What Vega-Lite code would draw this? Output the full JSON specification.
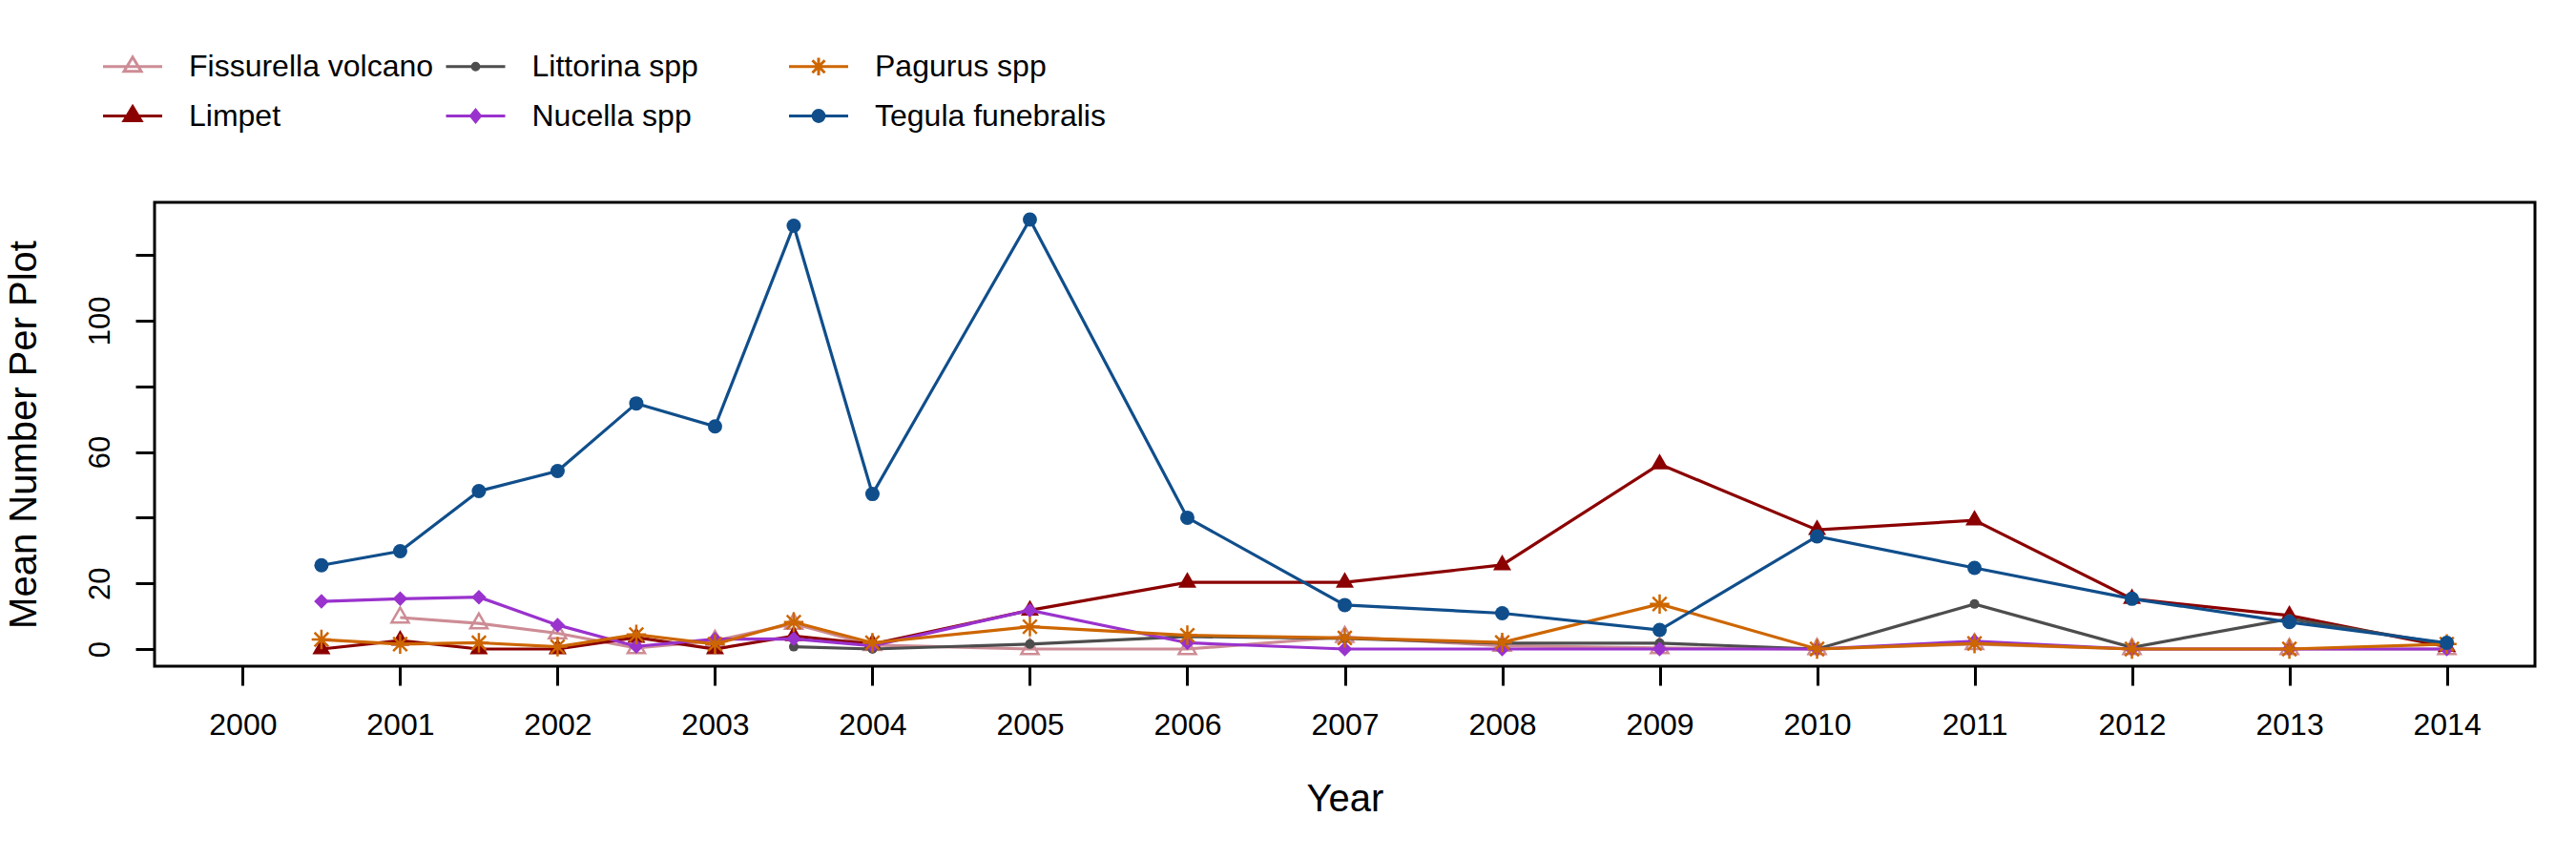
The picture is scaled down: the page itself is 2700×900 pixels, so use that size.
{
  "$schema": "https://vega.github.io/schema/vega-lite/v6.json",
  "width": 2495,
  "height": 486,
  "autosize": {"type": "none"},
  "padding": {"left": 162, "top": 212, "right": 43, "bottom": 202},
  "background": "white",
  "config": {
    "view": {"stroke": "black", "strokeWidth": 3},
    "font": "Liberation Sans",
    "axis": {"domain": false, "grid": false, "tickColor": "black", "tickWidth": 3, "tickSize": 20, "labelColor": "black", "titleColor": "black", "labelFont": "Liberation Sans", "titleFont": "Liberation Sans", "titleFontWeight": "normal"}
  },
  "data": {"values": [
    {"species": "Fissurella volcano", "year": 2001, "value": 9.6},
    {"species": "Fissurella volcano", "year": 2001.5, "value": 7.8},
    {"species": "Fissurella volcano", "year": 2002, "value": 4.8},
    {"species": "Fissurella volcano", "year": 2002.5, "value": 0.3},
    {"species": "Fissurella volcano", "year": 2003, "value": 2.5},
    {"species": "Fissurella volcano", "year": 2003.5, "value": 7.7},
    {"species": "Fissurella volcano", "year": 2004, "value": 1.2},
    {"species": "Fissurella volcano", "year": 2005, "value": 0},
    {"species": "Fissurella volcano", "year": 2006, "value": 0},
    {"species": "Fissurella volcano", "year": 2007, "value": 3.7},
    {"species": "Fissurella volcano", "year": 2008, "value": 1.0},
    {"species": "Fissurella volcano", "year": 2009, "value": 0.3},
    {"species": "Fissurella volcano", "year": 2010, "value": 0},
    {"species": "Fissurella volcano", "year": 2011, "value": 1.5},
    {"species": "Fissurella volcano", "year": 2012, "value": 0},
    {"species": "Fissurella volcano", "year": 2013, "value": 0},
    {"species": "Fissurella volcano", "year": 2014, "value": 0},
    {"species": "Limpet", "year": 2000.5, "value": 0},
    {"species": "Limpet", "year": 2001, "value": 2.6},
    {"species": "Limpet", "year": 2001.5, "value": 0},
    {"species": "Limpet", "year": 2002, "value": 0},
    {"species": "Limpet", "year": 2002.5, "value": 3.5},
    {"species": "Limpet", "year": 2003, "value": 0},
    {"species": "Limpet", "year": 2003.5, "value": 4.0},
    {"species": "Limpet", "year": 2004, "value": 1.5},
    {"species": "Limpet", "year": 2005, "value": 11.8},
    {"species": "Limpet", "year": 2006, "value": 20.3},
    {"species": "Limpet", "year": 2007, "value": 20.3},
    {"species": "Limpet", "year": 2008, "value": 25.6},
    {"species": "Limpet", "year": 2009, "value": 56.3},
    {"species": "Limpet", "year": 2010, "value": 36.3},
    {"species": "Limpet", "year": 2011, "value": 39.2},
    {"species": "Limpet", "year": 2012, "value": 15.3},
    {"species": "Limpet", "year": 2013, "value": 10.2},
    {"species": "Limpet", "year": 2014, "value": 0.7},
    {"species": "Littorina spp", "year": 2003.5, "value": 0.7},
    {"species": "Littorina spp", "year": 2004, "value": 0},
    {"species": "Littorina spp", "year": 2005, "value": 1.5},
    {"species": "Littorina spp", "year": 2006, "value": 3.8},
    {"species": "Littorina spp", "year": 2007, "value": 3.2},
    {"species": "Littorina spp", "year": 2008, "value": 1.8},
    {"species": "Littorina spp", "year": 2009, "value": 1.8},
    {"species": "Littorina spp", "year": 2010, "value": 0},
    {"species": "Littorina spp", "year": 2011, "value": 13.7},
    {"species": "Littorina spp", "year": 2012, "value": 0.5},
    {"species": "Littorina spp", "year": 2013, "value": 9.2},
    {"species": "Littorina spp", "year": 2014, "value": 1.5},
    {"species": "Nucella spp", "year": 2000.5, "value": 14.5},
    {"species": "Nucella spp", "year": 2001, "value": 15.3},
    {"species": "Nucella spp", "year": 2001.5, "value": 15.8},
    {"species": "Nucella spp", "year": 2002, "value": 7.3},
    {"species": "Nucella spp", "year": 2002.5, "value": 0.8},
    {"species": "Nucella spp", "year": 2003, "value": 3.0},
    {"species": "Nucella spp", "year": 2003.5, "value": 3.1},
    {"species": "Nucella spp", "year": 2004, "value": 1.0},
    {"species": "Nucella spp", "year": 2005, "value": 11.8},
    {"species": "Nucella spp", "year": 2006, "value": 1.9},
    {"species": "Nucella spp", "year": 2007, "value": 0},
    {"species": "Nucella spp", "year": 2008, "value": 0},
    {"species": "Nucella spp", "year": 2009, "value": 0},
    {"species": "Nucella spp", "year": 2010, "value": 0},
    {"species": "Nucella spp", "year": 2011, "value": 2.4},
    {"species": "Nucella spp", "year": 2012, "value": 0},
    {"species": "Nucella spp", "year": 2013, "value": 0},
    {"species": "Nucella spp", "year": 2014, "value": 0},
    {"species": "Pagurus spp", "year": 2000.5, "value": 2.9},
    {"species": "Pagurus spp", "year": 2001, "value": 1.5},
    {"species": "Pagurus spp", "year": 2001.5, "value": 1.9},
    {"species": "Pagurus spp", "year": 2002, "value": 0.7},
    {"species": "Pagurus spp", "year": 2002.5, "value": 4.4},
    {"species": "Pagurus spp", "year": 2003, "value": 1.5},
    {"species": "Pagurus spp", "year": 2003.5, "value": 8.2},
    {"species": "Pagurus spp", "year": 2004, "value": 1.9},
    {"species": "Pagurus spp", "year": 2005, "value": 6.8},
    {"species": "Pagurus spp", "year": 2006, "value": 4.2},
    {"species": "Pagurus spp", "year": 2007, "value": 3.4},
    {"species": "Pagurus spp", "year": 2008, "value": 2.0},
    {"species": "Pagurus spp", "year": 2009, "value": 13.7},
    {"species": "Pagurus spp", "year": 2010, "value": 0},
    {"species": "Pagurus spp", "year": 2011, "value": 1.7},
    {"species": "Pagurus spp", "year": 2012, "value": 0},
    {"species": "Pagurus spp", "year": 2013, "value": 0},
    {"species": "Pagurus spp", "year": 2014, "value": 1.5},
    {"species": "Tegula funebralis", "year": 2000.5, "value": 25.5},
    {"species": "Tegula funebralis", "year": 2001, "value": 29.8},
    {"species": "Tegula funebralis", "year": 2001.5, "value": 48.1},
    {"species": "Tegula funebralis", "year": 2002, "value": 54.2},
    {"species": "Tegula funebralis", "year": 2002.5, "value": 74.8},
    {"species": "Tegula funebralis", "year": 2003, "value": 67.8},
    {"species": "Tegula funebralis", "year": 2003.5, "value": 128.9},
    {"species": "Tegula funebralis", "year": 2004, "value": 47.2},
    {"species": "Tegula funebralis", "year": 2005, "value": 130.8},
    {"species": "Tegula funebralis", "year": 2006, "value": 40.0},
    {"species": "Tegula funebralis", "year": 2007, "value": 13.4},
    {"species": "Tegula funebralis", "year": 2008, "value": 10.9},
    {"species": "Tegula funebralis", "year": 2009, "value": 5.8},
    {"species": "Tegula funebralis", "year": 2010, "value": 34.3},
    {"species": "Tegula funebralis", "year": 2011, "value": 24.7},
    {"species": "Tegula funebralis", "year": 2012, "value": 15.3},
    {"species": "Tegula funebralis", "year": 2013, "value": 8.2},
    {"species": "Tegula funebralis", "year": 2014, "value": 1.9}
  ]},
  "encoding": {
    "x": {"field": "year", "type": "quantitative",
      "scale": {"domain": [1999.44, 2014.56], "nice": false, "zero": false},
      "axis": {"values": [2000, 2001, 2002, 2003, 2004, 2005, 2006, 2007, 2008, 2009, 2010, 2011, 2012, 2013, 2014], "format": "d", "labelFontSize": 32, "labelPadding": 26, "labelFlush": false, "labelOverlap": false, "title": "Year", "titleFontSize": 40, "titleBaseline": "alphabetic", "titleY": 151}},
    "y": {"field": "value", "type": "quantitative",
      "scale": {"domain": [-5.23, 136.03], "nice": false, "zero": false},
      "axis": {"values": [0, 20, 40, 60, 80, 100, 120], "labelExpr": "indexof([0, 20, 60, 100], datum.value) >= 0 ? datum.label : ''", "labelAngle": 270, "labelAlign": "center", "labelBaseline": "alphabetic", "labelFontSize": 31, "labelPadding": 28, "labelOverlap": false, "labelFlush": false, "title": "Mean Number Per Plot", "titleFontSize": 40, "titleAngle": 270, "titleAlign": "center", "titleBaseline": "alphabetic", "titleX": -125, "titleY": 243}}
  },
  "layer": [
    {
      "transform": [{"filter": {"field": "species", "equal": "Fissurella volcano"}}],
      "mark": {"type": "line", "strokeWidth": 3.2, "stroke": "#CD8C95"}
    },
    {
      "transform": [{"filter": {"field": "species", "equal": "Fissurella volcano"}}],
      "mark": {"type": "point", "shape": "M0,-1.155L1,0.577L-1,0.577Z", "size": 324, "filled": false, "stroke": "#CD8C95", "strokeWidth": 2.5, "opacity": 1}
    },
    {
      "transform": [{"filter": {"field": "species", "equal": "Limpet"}}],
      "mark": {"type": "line", "strokeWidth": 3.2, "stroke": "#8B0000"}
    },
    {
      "transform": [{"filter": {"field": "species", "equal": "Limpet"}}],
      "mark": {"type": "point", "shape": "M0,-1.155L1,0.577L-1,0.577Z", "size": 361, "filled": true, "fill": "#8B0000", "opacity": 1}
    },
    {
      "transform": [{"filter": {"field": "species", "equal": "Littorina spp"}}],
      "mark": {"type": "line", "strokeWidth": 3.2, "stroke": "#4D4D4D"}
    },
    {
      "transform": [{"filter": {"field": "species", "equal": "Littorina spp"}}],
      "mark": {"type": "point", "shape": "circle", "size": 100, "filled": true, "fill": "#4D4D4D", "opacity": 1}
    },
    {
      "transform": [{"filter": {"field": "species", "equal": "Nucella spp"}}],
      "mark": {"type": "line", "strokeWidth": 3.2, "stroke": "#9A32CD"}
    },
    {
      "transform": [{"filter": {"field": "species", "equal": "Nucella spp"}}],
      "mark": {"type": "point", "shape": "diamond", "size": 240, "filled": true, "fill": "#9A32CD", "opacity": 1}
    },
    {
      "transform": [{"filter": {"field": "species", "equal": "Pagurus spp"}}],
      "mark": {"type": "line", "strokeWidth": 3.2, "stroke": "#CD6600"}
    },
    {
      "transform": [{"filter": {"field": "species", "equal": "Pagurus spp"}}],
      "mark": {"type": "point", "shape": "M0,-1V1M-1,0H1M-0.71,-0.71L0.71,0.71M-0.71,0.71L0.71,-0.71", "size": 420, "filled": false, "stroke": "#CD6600", "strokeWidth": 2.5, "opacity": 1}
    },
    {
      "transform": [{"filter": {"field": "species", "equal": "Tegula funebralis"}}],
      "mark": {"type": "line", "strokeWidth": 3.2, "stroke": "#104E8B"}
    },
    {
      "transform": [{"filter": {"field": "species", "equal": "Tegula funebralis"}}],
      "mark": {"type": "point", "shape": "circle", "size": 225, "filled": true, "fill": "#104E8B", "opacity": 1}
    },
    {
      "mark": {"type": "point", "opacity": 0, "size": 3844, "strokeWidth": 3},
      "encoding": {
        "shape": {"field": "species", "type": "nominal",
          "scale": {"domain": ["Fissurella volcano", "Limpet", "Littorina spp", "Nucella spp", "Pagurus spp", "Tegula funebralis"],
            "range": [
              "M-1,0H1M0,-0.32L0.29,0.16L-0.29,0.16Z",
              "M-1,0H1M0,-0.32L0.29,0.16L-0.29,0.16Z",
              "M-1,0H1M-0.11,0A0.11,0.11,0,1,0,0.11,0A0.11,0.11,0,1,0,-0.11,0Z",
              "M-1,0H1M-0.16,0L0,-0.2L0.16,0L0,0.2Z",
              "M-1,0H1M0,-0.3V0.3M-0.21,-0.21L0.21,0.21M-0.21,0.21L0.21,-0.21",
              "M-1,0H1M-0.19,0A0.19,0.19,0,1,0,0.19,0A0.19,0.19,0,1,0,-0.19,0Z"
            ]},
          "legend": {"title": null, "orient": "none", "legendX": -55.5, "legendY": -175, "columns": 3, "gridAlign": "all", "columnPadding": 6.5, "rowPadding": 3, "symbolSize": 3844, "symbolStrokeWidth": 3, "symbolOpacity": 1, "labelFontSize": 32, "labelFont": "Liberation Sans", "labelColor": "black", "labelOffset": 26.5, "labelLimit": 1000, "padding": 0, "symbolOffset": 0}},
        "stroke": {"field": "species", "type": "nominal",
          "scale": {"domain": ["Fissurella volcano", "Limpet", "Littorina spp", "Nucella spp", "Pagurus spp", "Tegula funebralis"], "range": ["#CD8C95", "#8B0000", "#4D4D4D", "#9A32CD", "#CD6600", "#104E8B"]},
          "legend": {"title": null, "orient": "none", "legendX": -55.5, "legendY": -175, "columns": 3, "gridAlign": "all", "columnPadding": 6.5, "rowPadding": 3, "symbolSize": 3844, "symbolStrokeWidth": 3, "symbolOpacity": 1, "labelFontSize": 32, "labelFont": "Liberation Sans", "labelColor": "black", "labelOffset": 26.5, "labelLimit": 1000, "padding": 0, "symbolOffset": 0}},
        "fill": {"field": "species", "type": "nominal",
          "scale": {"domain": ["Fissurella volcano", "Limpet", "Littorina spp", "Nucella spp", "Pagurus spp", "Tegula funebralis"], "range": ["transparent", "#8B0000", "#4D4D4D", "#9A32CD", "transparent", "#104E8B"]},
          "legend": {"title": null, "orient": "none", "legendX": -55.5, "legendY": -175, "columns": 3, "gridAlign": "all", "columnPadding": 6.5, "rowPadding": 3, "symbolSize": 3844, "symbolStrokeWidth": 3, "symbolOpacity": 1, "labelFontSize": 32, "labelFont": "Liberation Sans", "labelColor": "black", "labelOffset": 26.5, "labelLimit": 1000, "padding": 0, "symbolOffset": 0}}
      }
    }
  ]
}
